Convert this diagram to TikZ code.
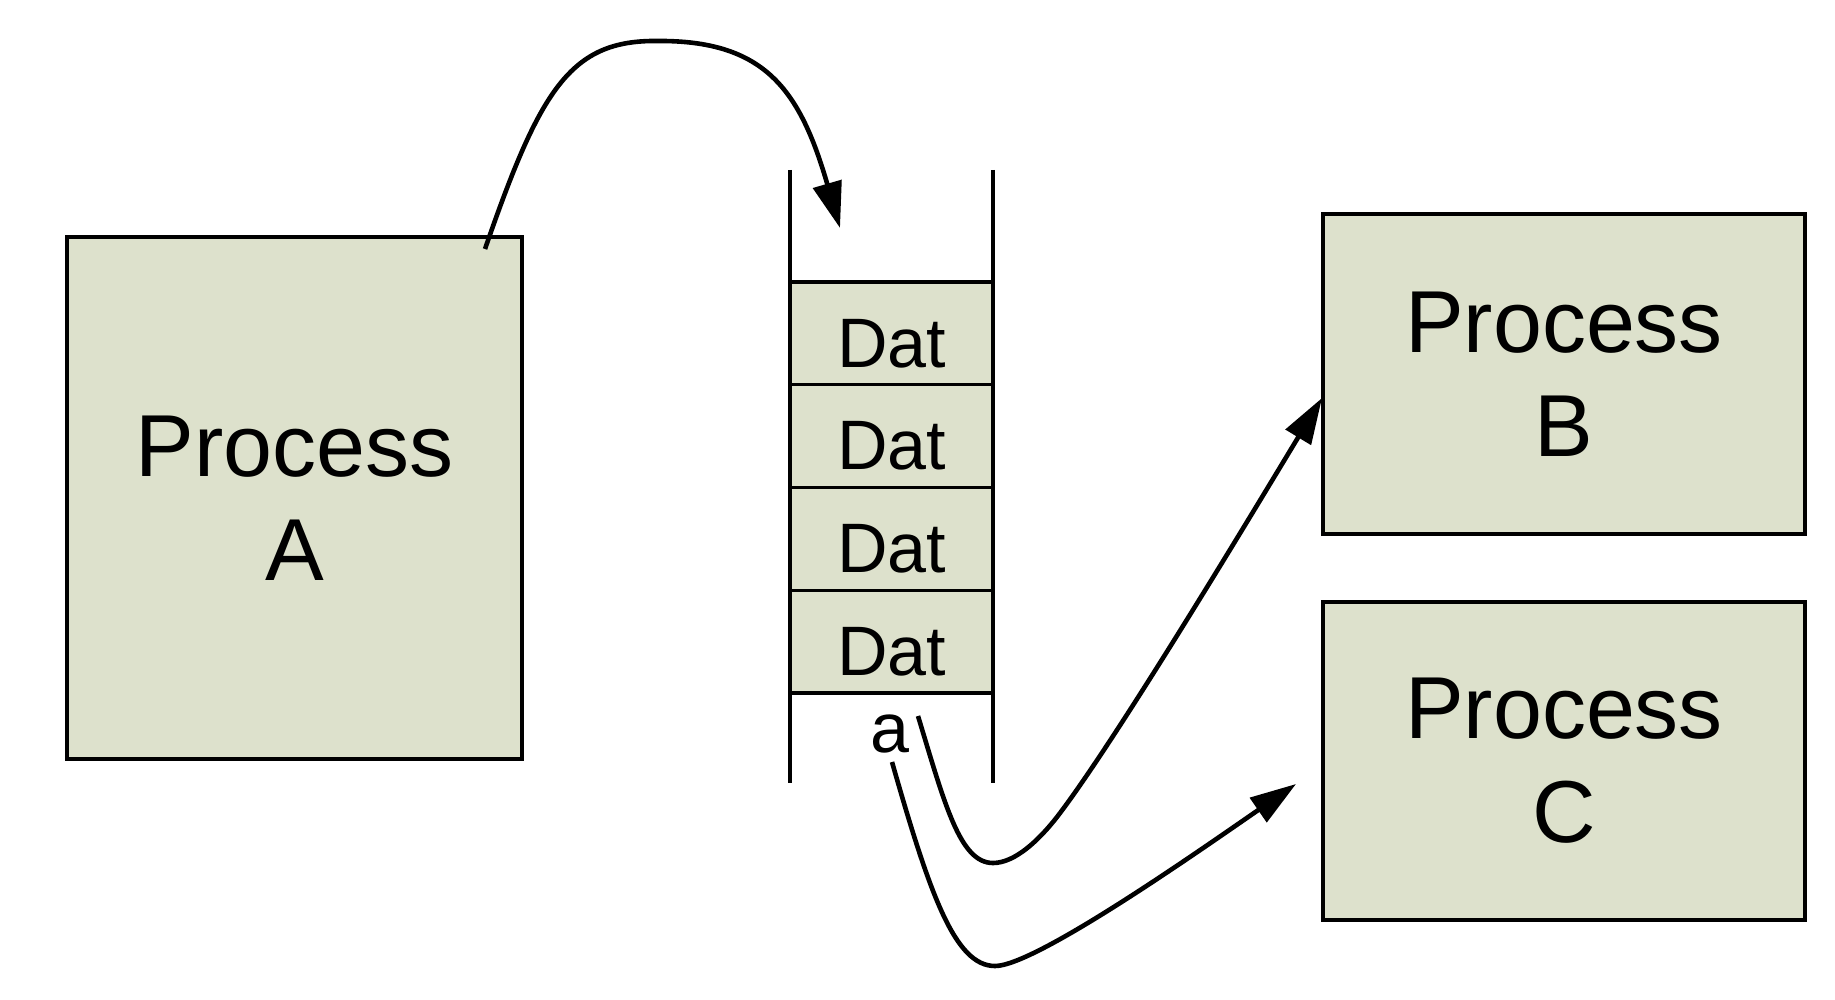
\documentclass[tikz,border=0pt]{standalone}
\usepackage{fontspec}
\setmainfont{Liberation Sans}
\usetikzlibrary{arrows.meta}
\definecolor{boxfill}{RGB}{221,225,204}
\begin{document}
\begin{tikzpicture}[x=1pt,y=-1pt,
  proc/.style={draw=black, fill=boxfill, line width=3.5pt, inner sep=0pt, align=center,
    font=\fontsize{88}{104}\selectfont},
  cell/.style={draw=black, fill=boxfill, line width=3.3pt, inner sep=0pt,
    minimum width=203pt, minimum height=102.75pt, text height=85pt, text depth=17.75pt,
    font=\fontsize{70}{84}\selectfont},
  lbl/.style={inner sep=0pt, anchor=base, font=\fontsize{70}{84}\selectfont},
  conn/.style={line width=4.6pt, -{Triangle[length=46pt,width=29pt]}},
  wall/.style={line width=4.6pt}]
\fill[white] (0,0) rectangle (1835,1000);
\useasboundingbox (0,0) rectangle (1835,1000);

% processes
\node[proc, minimum width=455pt, minimum height=522pt] (A) at (294.5,498) {Process\\A};
\node[proc, minimum width=482pt, minimum height=320pt] (B) at (1564,374) {Process\\B};
\node[proc, minimum width=482pt, minimum height=318pt] (C) at (1564,761) {Process\\C};

% queue cells
\node[cell] (d1) at (891.5,333.375) {Dat};
\node[cell] (d2) at (891.5,436.125) {Dat};
\node[cell] (d3) at (891.5,538.875) {Dat};
\node[cell] (d4) at (891.5,641.625) {Dat};
\node[lbl] (a) at (890,752) {a};

% queue walls
\coordinate (wl1) at (790,170);
\coordinate (wl2) at (790,783);
\coordinate (wr1) at (993,170);
\coordinate (wr2) at (993,783);
\draw[wall] (wl1) -- (wl2);
\draw[wall] (wr1) -- (wr2);

% arrow A -> queue
\coordinate (s1) at (485,249);
\coordinate (p1) at (657,41);
\coordinate (e1) at (840,228);
\draw[conn] (s1) .. controls (540,90) and (570,40) .. (p1)
  .. controls (765,40) and (800,90) .. (e1);

% arrow queue -> B
\coordinate (s2) at (918,716);
\coordinate (b2) at (993,863);
\coordinate (q2) at (1057,817);
\coordinate (e2) at (1322,398);
\draw[conn] (s2) .. controls (945,805) and (960,863) .. (b2)
  .. controls (1015,863) and (1039,840) .. (q2)
  .. controls (1117,739) and (1262,497) .. (e2);

% arrow queue -> C
\coordinate (s3) at (892,762);
\coordinate (b3) at (995,966);
\coordinate (e3) at (1296,784);
\draw[conn] (s3) .. controls (930,895) and (955,966) .. (b3)
  .. controls (1035,966) and (1196,853) .. (e3);
\end{tikzpicture}
\end{document}
